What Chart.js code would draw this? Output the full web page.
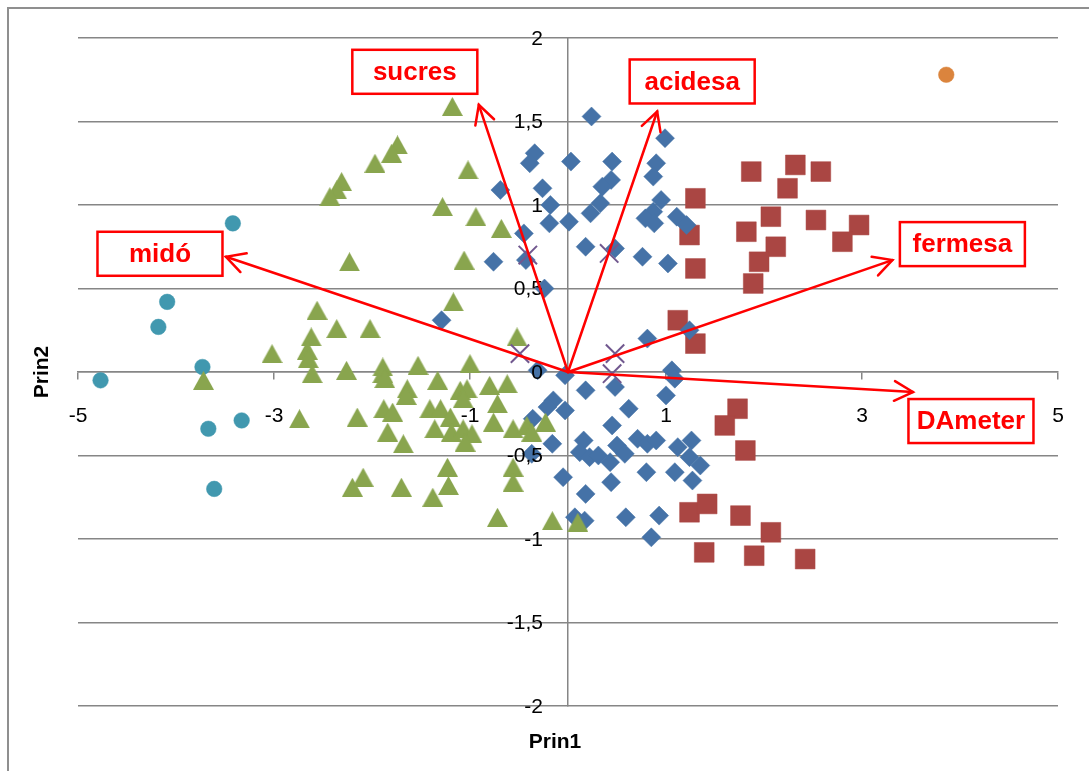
<!DOCTYPE html>
<html>
<head>
<meta charset="utf-8">
<title>Prin1 / Prin2</title>
<script src="https://cdn.jsdelivr.net/npm/chart.js@4.4.1/dist/chart.umd.min.js"></script>
<style>
  html, body { margin: 0; padding: 0; background: #ffffff; }
  #wrap { width: 1089px; height: 771px; position: relative; overflow: hidden; }
  canvas { display: block; }
</style>
</head>
<body>
<div id="wrap"><canvas id="chart" width="1089" height="771"></canvas></div>
<script>
// ---- Scores on the first two principal components, one array per group ----
const groupBlue = [
  [0.24,1.53],[0.99,1.40],[-0.34,1.31],[-0.39,1.25],[0.03,1.26],[0.45,1.26],[0.90,1.25],[0.87,1.17],
  [0.44,1.15],[0.35,1.11],[-0.69,1.09],[-0.26,1.10],[0.33,1.01],[0.23,0.95],[-0.18,1.00],[-0.19,0.89],
  [0.01,0.90],[0.95,1.03],[0.87,0.96],[0.79,0.92],[0.88,0.89],[1.11,0.93],[1.21,0.88],[-0.45,0.83],
  [0.18,0.75],[0.48,0.74],[0.76,0.69],[1.02,0.65],[-0.76,0.66],[-0.43,0.67],[-0.24,0.50],[-1.29,0.31],
  [0.81,0.20],[1.24,0.25],[1.06,0.01],[1.09,-0.04],[-0.03,-0.02],[-0.31,0.01],[0.18,-0.11],[0.48,-0.09],
  [1.00,-0.14],[-0.15,-0.17],[-0.03,-0.23],[-0.21,-0.21],[0.62,-0.22],[0.45,-0.32],[-0.36,-0.28],[0.16,-0.41],
  [0.12,-0.48],[0.22,-0.51],[0.31,-0.50],[0.43,-0.54],[0.50,-0.44],[0.58,-0.49],[0.71,-0.40],[0.81,-0.43],
  [0.90,-0.41],[1.12,-0.45],[1.26,-0.41],[1.24,-0.51],[1.35,-0.56],[0.80,-0.60],[1.09,-0.60],[1.27,-0.65],
  [0.44,-0.66],[-0.05,-0.63],[-0.16,-0.43],[-0.37,-0.49],[0.18,-0.73],[0.07,-0.87],[0.17,-0.89],[0.59,-0.87],
  [0.93,-0.86],[0.85,-0.99]
];
const groupRed = [
  [1.87,1.20],[2.32,1.24],[2.58,1.20],[2.24,1.10],[1.30,1.04],[2.07,0.93],[2.53,0.91],[2.97,0.88],
  [1.82,0.84],[1.24,0.82],[2.12,0.75],[2.80,0.78],[1.95,0.66],[1.30,0.62],[1.89,0.53],[1.12,0.31],
  [1.30,0.17],[1.73,-0.22],[1.60,-0.32],[1.81,-0.47],[1.24,-0.84],[1.42,-0.79],[1.76,-0.86],[2.07,-0.96],
  [1.39,-1.08],[1.90,-1.10],[2.42,-1.12]
];
const groupGreen = [
  [-1.18,1.59],[-1.74,1.36],[-1.80,1.31],[-1.97,1.25],[-2.31,1.14],[-2.36,1.09],[-2.43,1.05],[-1.02,1.21],
  [-1.28,0.99],[-0.94,0.93],[-0.68,0.86],[-2.23,0.66],[-1.06,0.67],[-1.17,0.42],[-2.56,0.37],[-2.36,0.26],
  [-2.02,0.26],[-2.62,0.21],[-0.52,0.21],[-3.02,0.11],[-2.66,0.13],[-2.65,0.08],[-2.61,-0.01],[-2.26,0.01],
  [-1.89,0.03],[-1.89,-0.01],[-1.87,-0.04],[-1.53,0.04],[-1.33,-0.05],[-1.64,-0.10],[-1.65,-0.14],[-1.00,0.05],
  [-1.10,-0.11],[-1.03,-0.10],[-1.07,-0.16],[-0.80,-0.08],[-0.62,-0.07],[-0.72,-0.19],[-0.76,-0.30],[-1.41,-0.22],
  [-1.30,-0.22],[-1.20,-0.27],[-1.36,-0.34],[-1.19,-0.36],[-1.07,-0.34],[-0.98,-0.37],[-1.05,-0.42],[-0.56,-0.34],
  [-0.42,-0.32],[-0.37,-0.36],[-0.23,-0.30],[-2.74,-0.28],[-2.15,-0.27],[-1.88,-0.22],[-1.79,-0.24],[-1.84,-0.36],
  [-1.68,-0.43],[-2.20,-0.69],[-2.09,-0.63],[-1.70,-0.69],[-1.38,-0.75],[-1.23,-0.57],[-1.22,-0.68],[-0.56,-0.57],
  [-0.56,-0.66],[-0.72,-0.87],[-0.16,-0.89],[0.10,-0.90],[-3.72,-0.05]
];
const groupPurple = [[-0.41,0.70],[0.42,0.71],[-0.49,0.11],[0.48,0.11],[0.45,-0.01]];
const groupTeal = [
  [-3.42,0.89],[-4.09,0.42],[-4.18,0.27],[-3.73,0.03],[-4.77,-0.05],[-3.67,-0.34],[-3.33,-0.29],[-3.61,-0.70]
];
const groupOrange = [[3.86,1.78]];

// ---- Variable loadings drawn as arrows from the origin ----
const loadingNames = ['sucres', 'acidesa', 'fermesa', 'DAmeter', 'midó'];
const loadingX = [-0.91, 0.91, 3.31, 3.52, -3.49];
const loadingY = [1.60, 1.56, 0.67, -0.12, 0.69];

// ---- Axis ticks ----
const xTickValues = [-5, -3, -1, 1, 3, 5];
const yTickValues = [-2, -1.5, -1, -0.5, 0, 0.5, 1, 1.5, 2];
const xTitle = 'Prin1';
const yTitle = 'Prin2';

// ---- Presentation ----
const GRID = '#868686';
const TICK_FONT = '21px "Liberation Sans", Arial, sans-serif';
const TITLE_FONT = 'bold 21px "Liberation Sans", Arial, sans-serif';
const BOX_FONT = 'bold 26px "Liberation Sans", Arial, sans-serif';
const ARROW_RED = '#ff0000';
// text-box centre, offset in pixels from each arrow tip
const boxOffsets = { 'sucres': [-64, -33], 'acidesa': [35, -30], 'fermesa': [70, -16], 'DAmeter': [58, 29], 'midó': [-66, -3] };
const BOX_W = 125, BOX_H = 44;

const toPts = arr => arr.map(p => ({ x: p[0], y: p[1] }));
const decimalComma = v => String(v).replace('.', ',');

// triangle marker centred on its bounding box
function triangleMarker(color, w, h) {
  const c = document.createElement('canvas');
  c.width = w; c.height = h;
  const g = c.getContext('2d');
  g.fillStyle = color;
  g.beginPath();
  g.moveTo(w / 2, 0);
  g.lineTo(w, h);
  g.lineTo(0, h);
  g.closePath();
  g.fill();
  return c;
}

const framePlugin = {
  id: 'frame',
  beforeDraw(chart) {
    const ctx = chart.ctx;
    ctx.save();
    ctx.fillStyle = '#ffffff';
    ctx.fillRect(0, 0, chart.width, chart.height);
    ctx.strokeStyle = '#8f8f8f';
    ctx.lineWidth = 2;
    ctx.strokeRect(8, 8, chart.width + 20, chart.height + 20);
    ctx.restore();
  },
  afterDatasetsDraw(chart) {
    const ctx = chart.ctx;
    const xs = chart.scales.x, ys = chart.scales.y;
    const x0 = xs.getPixelForValue(0), y0 = ys.getPixelForValue(0);
    ctx.save();

    // tick labels
    ctx.fillStyle = '#000000';
    ctx.font = TICK_FONT;
    ctx.textAlign = 'right';
    ctx.textBaseline = 'middle';
    ys.ticks.forEach(t => ctx.fillText(decimalComma(t.value), x0 - 25, ys.getPixelForValue(t.value) + 1));
    ctx.textAlign = 'center';
    xs.ticks.forEach(t => ctx.fillText(decimalComma(t.value), xs.getPixelForValue(t.value), y0 + 44));

    // axis titles
    ctx.font = TITLE_FONT;
    ctx.textAlign = 'center';
    ctx.fillText(xTitle, 555, 742);
    ctx.save();
    ctx.translate(42, 372);
    ctx.rotate(-Math.PI / 2);
    ctx.fillText(yTitle, 0, 0);
    ctx.restore();

    // loading arrows
    ctx.strokeStyle = ARROW_RED;
    ctx.lineWidth = 2.5;
    ctx.lineCap = 'round';
    ctx.lineJoin = 'miter';
    const headLen = 21, headAng = 28 * Math.PI / 180;
    loadingNames.forEach((name, i) => {
      const x1 = xs.getPixelForValue(loadingX[i]);
      const y1 = ys.getPixelForValue(loadingY[i]);
      ctx.beginPath();
      ctx.moveTo(x0, y0);
      ctx.lineTo(x1, y1);
      ctx.stroke();
      const a = Math.atan2(y1 - y0, x1 - x0);
      ctx.beginPath();
      ctx.moveTo(x1 - headLen * Math.cos(a - headAng), y1 - headLen * Math.sin(a - headAng));
      ctx.lineTo(x1, y1);
      ctx.lineTo(x1 - headLen * Math.cos(a + headAng), y1 - headLen * Math.sin(a + headAng));
      ctx.stroke();
    });

    // labelled boxes
    ctx.font = BOX_FONT;
    ctx.textAlign = 'center';
    ctx.textBaseline = 'middle';
    loadingNames.forEach((name, i) => {
      const x1 = xs.getPixelForValue(loadingX[i]);
      const y1 = ys.getPixelForValue(loadingY[i]);
      const [dx, dy] = boxOffsets[name];
      const cx = x1 + dx, cy = y1 + dy;
      ctx.fillStyle = '#ffffff';
      ctx.fillRect(cx - BOX_W / 2, cy - BOX_H / 2, BOX_W, BOX_H);
      ctx.lineWidth = 2.5;
      ctx.strokeStyle = ARROW_RED;
      ctx.strokeRect(cx - BOX_W / 2, cy - BOX_H / 2, BOX_W, BOX_H);
      ctx.fillStyle = ARROW_RED;
      ctx.fillText(name, cx, cy + 1);
    });
    ctx.restore();
  }
};

new Chart(document.getElementById('chart'), {
  type: 'scatter',
  data: {
    datasets: [
      { label: 'purple', data: toPts(groupPurple), pointStyle: 'crossRot', pointRadius: 13,
        borderColor: '#71588F', backgroundColor: '#71588F', pointBorderWidth: 2 },
      { label: 'green', data: toPts(groupGreen), pointStyle: triangleMarker('#89A54E', 21, 19),
        borderColor: '#89A54E', backgroundColor: '#89A54E' },
      { label: 'blue', data: toPts(groupBlue), pointStyle: 'rectRot', pointRadius: 9.5,
        borderColor: '#4572A7', backgroundColor: '#4572A7', pointBorderWidth: 0.5 },
      { label: 'red', data: toPts(groupRed), pointStyle: 'rect', pointRadius: 14,
        borderColor: '#AA4643', backgroundColor: '#AA4643', pointBorderWidth: 0.5 },
      { label: 'teal', data: toPts(groupTeal), pointStyle: 'circle', pointRadius: 7.8,
        borderColor: '#4198AF', backgroundColor: '#4198AF', pointBorderWidth: 0.5 },
      { label: 'orange', data: toPts(groupOrange), pointStyle: 'circle', pointRadius: 7.8,
        borderColor: '#DB843D', backgroundColor: '#DB843D', pointBorderWidth: 0.5 }
    ]
  },
  options: {
    responsive: false,
    animation: false,
    devicePixelRatio: 1,
    layout: { padding: { left: 78, right: 31, top: 38, bottom: 65 } },
    plugins: { legend: { display: false }, tooltip: { enabled: false } },
    elements: { point: { hoverRadius: 0 } },
    scales: {
      x: {
        type: 'linear',
        min: -5, max: 5,
        position: { y: 0 },
        afterBuildTicks: s => { s.ticks = xTickValues.map(v => ({ value: v })); },
        grid: { drawOnChartArea: false, drawTicks: true, tickLength: 7, color: GRID, lineWidth: 1.5 },
        border: { display: true, color: GRID, width: 1.5 },
        ticks: { display: false }
      },
      y: {
        type: 'linear',
        min: -2, max: 2,
        position: { x: 0 },
        afterBuildTicks: s => { s.ticks = yTickValues.map(v => ({ value: v })); },
        grid: { drawOnChartArea: true, drawTicks: false, color: GRID, lineWidth: 1.5 },
        border: { display: true, color: GRID, width: 1.5 },
        ticks: { display: false }
      }
    }
  },
  plugins: [framePlugin]
});
</script>
</body>
</html>
